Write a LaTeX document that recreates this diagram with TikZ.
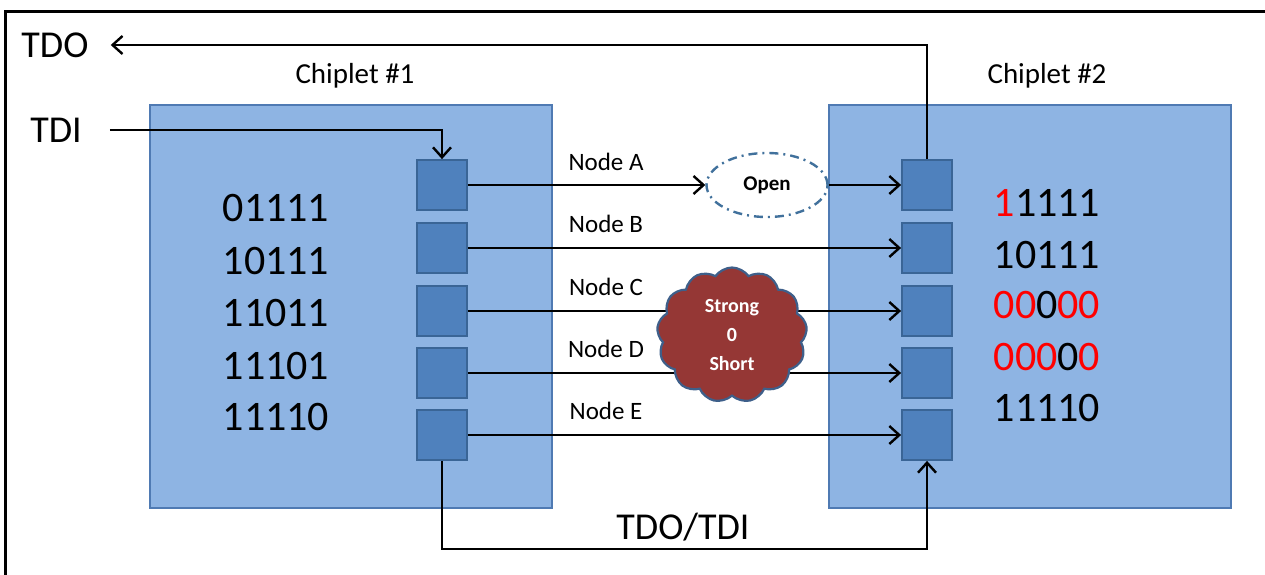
\documentclass[tikz,border=0pt]{standalone}
\usepackage{fontspec}
\setmainfont{Carlito}
\usetikzlibrary{arrows.meta,shapes.geometric,shapes.symbols}
\definecolor{chipfill}{HTML}{8EB4E3}
\definecolor{chipdraw}{HTML}{4F7AB3}
\definecolor{padfill}{HTML}{4F81BD}
\definecolor{paddraw}{HTML}{3A6596}
\definecolor{opendash}{HTML}{41719C}
\definecolor{shortfill}{HTML}{953735}
\definecolor{shortdraw}{HTML}{3E5F8A}
\definecolor{bitred}{HTML}{FF0000}
\tikzset{
  chip/.style={draw=chipdraw, fill=chipfill, line width=2pt, minimum width=402pt, minimum height=403pt, inner sep=0pt},
  pad/.style={draw=paddraw, fill=padfill, line width=1.8pt, minimum width=50pt, minimum height=50pt, inner sep=0pt},
  wire/.style={line width=2.4pt, draw=black},
  arr/.style={wire, -{Straight Barb[length=10pt,width=18pt,line width=2.4pt]}},
  bits/.style={font=\fontsize{42}{52}\selectfont, inner sep=0pt, align=left},
  big/.style={font=\fontsize{38}{40}\selectfont, inner sep=0pt},
  chiplabel/.style={font=\fontsize{29}{30}\selectfont, inner sep=0pt},
  netlabel/.style={font=\fontsize{25}{26}\selectfont, inner sep=0pt},
  openfault/.style={ellipse, draw=opendash, fill=white, line width=2.4pt,
    dash pattern=on 9pt off 5pt on 2pt off 5pt, minimum width=121pt, minimum height=64pt,
    font=\bfseries\fontsize{21}{22}\selectfont, inner sep=0pt},
  shortfault/.style={cloud, cloud puffs=13, cloud puff arc=110, aspect=1.1,
    draw=shortdraw, fill=shortfill, line width=2.2pt, minimum width=150pt, minimum height=135pt,
    text=white, font=\bfseries\fontsize{20}{29}\selectfont, align=center, inner sep=0pt}
}
\begin{document}
\begin{tikzpicture}[x=1pt, y=-1pt]
\useasboundingbox (0,0) rectangle (1265,575);
% page frame (top and left edges)
\draw[line width=3pt] (5,575) -- (5,12) -- (1265,12);

% chiplets
\node[chip] (chip1) at (351,306.5) {};
\node[chip] (chip2) at (1030,306.5) {};
\node[chiplabel] (lab1) at (355,76) {Chiplet \#1};
\node[chiplabel] (lab2) at (1047,76) {Chiplet \#2};

% boundary-scan cells
\foreach \i/\y in {1/185,2/248,3/311,4/373,5/435}{
  \node[pad] (L\i) at (442,\y) {};
  \node[pad] (R\i) at (927,\y) {};
}

% register contents
\node[bits] (b1a) at (276,208) {01111};
\node[bits] (b1b) at (276,261) {10111};
\node[bits] (b1c) at (276,313) {11011};
\node[bits] (b1d) at (276,366) {11101};
\node[bits] (b1e) at (276,417) {11110};
\node[bits] (b2a) at (1047,203) {{\color{bitred}1}1111};
\node[bits] (b2b) at (1047,255) {10111};
\node[bits] (b2c) at (1047,305) {{\color{bitred}00}0{\color{bitred}00}};
\node[bits] (b2d) at (1047,357) {{\color{bitred}000}0{\color{bitred}0}};
\node[bits] (b2e) at (1047,408) {11110};

% scan chain ends
\node[big] (tdo) at (55,45) {TDO};
\node[big] (tdi) at (56,130) {TDI};
\node[big] (link) at (683,527) {TDO/TDI};

% net labels
\node[netlabel] (na) at (606,162) {Node A};
\node[netlabel] (nb) at (606,224) {Node B};
\node[netlabel] (nc) at (606,287) {Node C};
\node[netlabel] (nd) at (606,349) {Node D};
\node[netlabel] (ne) at (606,411) {Node E};

% faults
\node[openfault] (open) at (767,185) {Open};

% interconnect
\draw[arr] (L1.east) -- (open.west);
\draw[arr] (open.east) -- (R1.west);
\draw[arr] (L2.east) -- (R2.west);
\draw[arr] (L3.east) -- (R3.west);
\draw[arr] (L4.east) -- (R4.west);
\draw[arr] (L5.east) -- (R5.west);

\node[shortfault] (short) at (732,335) {Strong\\0\\Short};

% scan path
\draw[arr] ([xshift=28pt]tdi.east) -| (L1.north);
\draw[arr] (R1.north) |- ([xshift=22pt]tdo.east);
\draw[arr] (L5.south) -- ++(0,88) -| (R5.south);
\end{tikzpicture}
\end{document}
